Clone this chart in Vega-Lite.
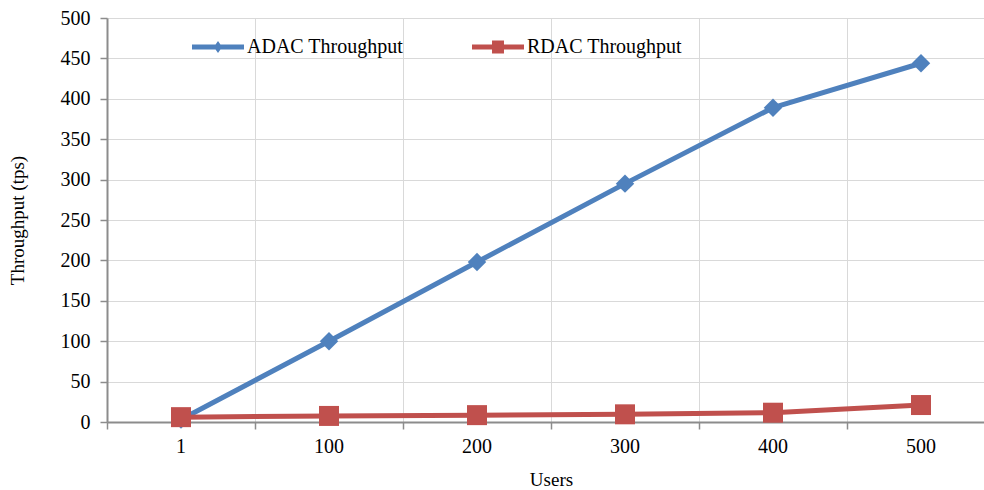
{
  "$schema": "https://vega.github.io/schema/vega-lite/v6.json",
  "width": 888,
  "height": 404,
  "autosize": {"type": "none"},
  "padding": {"left": 107, "top": 18, "right": 0, "bottom": 68},
  "background": "white",
  "config": {
    "font": "Liberation Serif",
    "view": {"stroke": null},
    "axis": {"labelFont": "Liberation Serif", "titleFont": "Liberation Serif", "labelFontSize": 20, "titleFontSize": 19, "titleFontWeight": "normal", "labelColor": "black", "titleColor": "black", "domainColor": "#8c8c8c", "tickColor": "#8c8c8c", "gridColor": "#d9d9d9", "gridWidth": 1},
    "legend": {"labelFont": "Liberation Serif", "labelFontSize": 20, "labelColor": "black"}
  },
  "data": {
    "values": [
      {"users": "1", "series": "ADAC Throughput", "tps": 3},
      {"users": "100", "series": "ADAC Throughput", "tps": 100},
      {"users": "200", "series": "ADAC Throughput", "tps": 198},
      {"users": "300", "series": "ADAC Throughput", "tps": 295},
      {"users": "400", "series": "ADAC Throughput", "tps": 389},
      {"users": "500", "series": "ADAC Throughput", "tps": 444},
      {"users": "1", "series": "RDAC Throughput", "tps": 6},
      {"users": "100", "series": "RDAC Throughput", "tps": 7.5},
      {"users": "200", "series": "RDAC Throughput", "tps": 8.5},
      {"users": "300", "series": "RDAC Throughput", "tps": 9.5},
      {"users": "400", "series": "RDAC Throughput", "tps": 11.5},
      {"users": "500", "series": "RDAC Throughput", "tps": 21}
    ]
  },
  "resolve": {"axis": {"x": "independent"}, "legend": {"color": "independent"}},
  "layer": [
    {
      "mark": {"type": "line", "strokeWidth": 5, "strokeCap": "round", "strokeJoin": "round"},
      "encoding": {
        "x": {"field": "users", "type": "ordinal", "sort": null, "bandPosition": 0.5,
          "scale": {"type": "band", "paddingInner": 0, "paddingOuter": 0},
          "axis": {"orient": "bottom", "bandPosition": 0, "labels": false, "title": null, "grid": true, "ticks": true, "tickSize": 7, "tickWidth": 1.5, "domain": true, "domainWidth": 2}},
        "y": {"field": "tps", "type": "quantitative",
          "scale": {"domain": [0, 500], "nice": false},
          "axis": {"title": "Throughput (tps)", "values": [0,50,100,150,200,250,300,350,400,450,500], "labelOverlap": false, "labelFont": "Liberation Serif", "grid": true, "tickSize": 7, "tickWidth": 1.5, "labelPadding": 10, "titlePadding": 33, "domainWidth": 2}},
        "color": {"field": "series", "type": "nominal",
          "scale": {"domain": ["ADAC Throughput", "RDAC Throughput"], "range": ["#4f81bd", "#c0504d"]},
          "legend": {"orient": "none", "direction": "horizontal", "legendX": 85, "legendY": 3, "title": null, "padding": 0,
            "symbolSize": 2704, "labelOffset": 3, "columnPadding": 68,
            "encode": {"symbols": {"update": {
              "shape": {"signal": "datum.value === 'ADAC Throughput' ? 'M-1,-0.095L1,-0.095L1,0.095L-1,0.095Z M0,-0.23L0.16,0L0,0.23L-0.16,0Z' : 'M-1,-0.095L1,-0.095L1,0.095L-1,0.095Z M-0.23,-0.25L0.23,-0.25L0.23,0.25L-0.23,0.25Z'"},
              "fill": {"signal": "datum.value === 'ADAC Throughput' ? '#4f81bd' : '#c0504d'"},
              "stroke": {"value": "transparent"},
              "strokeWidth": {"value": 0},
              "opacity": {"value": 1}
            }}}}},
        "detail": {"field": "series"}
      }
    },
    {
      "mark": {"type": "point", "filled": true, "opacity": 1},
      "encoding": {
        "x": {"field": "users", "type": "ordinal", "sort": null, "bandPosition": 0.5,
          "axis": {"orient": "bottom", "title": "Users", "labelFont": "Liberation Serif", "ticks": false, "grid": false, "domain": false, "labelAngle": 0, "labelPadding": 14, "titlePadding": 14}},
        "y": {"field": "tps", "type": "quantitative",
          "axis": {"title": "Throughput (tps)", "values": [0,50,100,150,200,250,300,350,400,450,500], "labelOverlap": false, "labelFont": "Liberation Serif", "grid": true, "tickSize": 7, "tickWidth": 1.5, "labelPadding": 10, "titlePadding": 33, "domainWidth": 2}},
        "color": {"field": "series", "type": "nominal", "legend": null},
        "shape": {"field": "series", "type": "nominal",
          "scale": {"domain": ["ADAC Throughput", "RDAC Throughput"], "range": ["diamond", "square"]},
          "legend": null},
        "size": {"field": "series", "type": "nominal",
          "scale": {"domain": ["ADAC Throughput", "RDAC Throughput"], "range": [340, 400]},
          "legend": null}
      }
    }
  ]
}
